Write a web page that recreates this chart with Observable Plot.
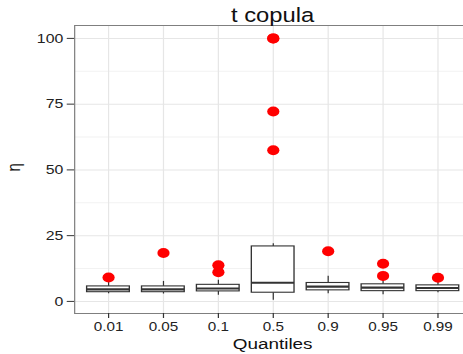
<!DOCTYPE html>
<html>
<head>
<meta charset="utf-8">
<script src="https://cdn.jsdelivr.net/npm/d3@7"></script>
<script src="https://cdn.jsdelivr.net/npm/@observablehq/plot@0.6"></script>
<style>
  html, body { margin: 0; padding: 0; background: #fff; overflow: hidden; }
  #chart { width: 463px; height: 354px; overflow: hidden; }
  #chart svg { display: block; transform: scaleX(1.22); transform-origin: 0 0; }
</style>
</head>
<body>
<div id="chart"></div>
<script>
// Box-plot summaries of η for each quantile level (t copula)
const quantiles     = ["0.01", "0.05", "0.1", "0.5", "0.9", "0.95", "0.99"];
const whiskerLow    = [2.9, 2.8, 2.3, 0.4, 2.9, 2.5, 3.3];
const lowerQuartile = [3.5, 3.5, 3.8, 3.3, 4.2, 3.9, 3.9];
const median        = [4.6, 4.6, 4.9, 7.1, 5.6, 5.2, 5.1];
const upperQuartile = [5.7, 5.7, 6.3, 20.9, 7.0, 6.5, 6.1];
const whiskerHigh   = [7.4, 7.6, 8.0, 21.9, 9.6, 8.6, 8.0];

// Outlying points beyond the whiskers
const outlierQuantile = ["0.01", "0.05", "0.1", "0.1", "0.5", "0.5", "0.5", "0.5", "0.9", "0.95", "0.95", "0.99"];
const outlierValue    = [9.1, 18.4, 11.1, 13.7, 57.5, 72.2, 100, 100, 19.1, 9.7, 14.3, 9.0];

// Axis ticks and grid
const yTicks = [0, 25, 50, 75, 100];
const yMinor = [12.5, 37.5, 62.5, 87.5];

const boxes = quantiles.map((q, i) => ({
  q,
  lo: whiskerLow[i],
  q1: lowerQuartile[i],
  med: median[i],
  q3: upperQuartile[i],
  hi: whiskerHigh[i]
}));
const outliers = outlierQuantile.map((q, i) => ({ q, v: outlierValue[i] }));

const ink = "#333333";

const chart = Plot.plot({
  width: 387,
  height: 354,
  marginLeft: 60.7,
  marginRight: 1.7,
  marginTop: 25,
  marginBottom: 41,
  style: {
    fontFamily: "'Liberation Sans', Arial, Helvetica, sans-serif",
    fontSize: "12.5px",
    color: "#222",
    background: "#fff",
    overflow: "visible"
  },
  x: { type: "band", domain: quantiles, paddingInner: 0.23, paddingOuter: 0.215, align: 0.5 },
  y: { domain: [-4.6, 104.9] },
  marks: [
    Plot.ruleY(yMinor, { stroke: "#f2f2f2" }),
    Plot.ruleY(yTicks, { stroke: "#e6e6e6" }),
    Plot.gridX({ stroke: "#e6e6e6", strokeOpacity: 1 }),
    Plot.ruleX(boxes, { x: "q", y1: "lo", y2: "q1", stroke: ink }),
    Plot.ruleX(boxes, { x: "q", y1: "q3", y2: "hi", stroke: ink }),
    Plot.barY(boxes, { x: "q", y1: "q1", y2: "q3", fill: "#fff", stroke: ink, strokeWidth: 1.1 }),
    Plot.tickY(boxes, { x: "q", y: "med", stroke: ink, strokeWidth: 2.2 }),
    Plot.dot(outliers, { x: "q", y: "v", r: 5, fill: "#ff0000", stroke: "none" }),
    Plot.frame({ stroke: "#7f7f7f" }),
    Plot.axisY({ ticks: yTicks, tickSize: 6, tickPadding: 3.3, label: null, stroke: ink, fontSize: 13 }),
    Plot.axisX({ tickSize: 5, tickPadding: 4, label: null, stroke: ink }),
    Plot.text(["t copula"], { text: d => d, frameAnchor: "top", lineAnchor: "bottom", dy: -4, fontSize: 19.5, fill: "#111" }),
    Plot.text(["Quantiles"], { text: d => d, frameAnchor: "bottom", lineAnchor: "bottom", dy: 35, fontSize: 15.5, fill: "#111" }),
    Plot.text(["η"], { text: d => d, frameAnchor: "left", rotate: -90, dx: -49.7, dy: 2, fontSize: 15, fill: "#111" })
  ]
});

document.getElementById("chart").appendChild(chart);
</script>
</body>
</html>
